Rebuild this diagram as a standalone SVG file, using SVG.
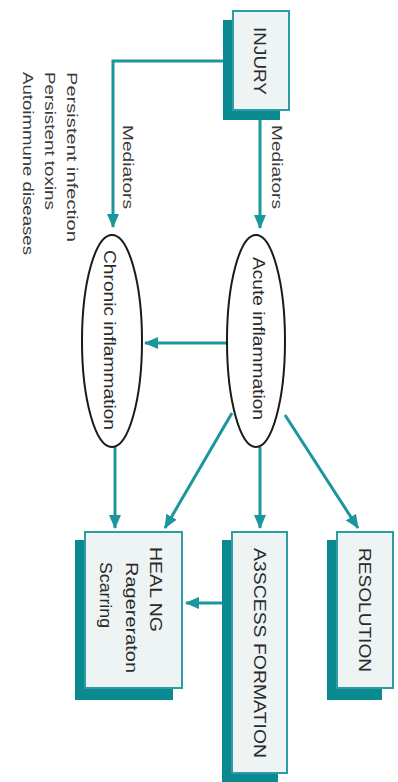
<svg xmlns="http://www.w3.org/2000/svg" width="398" height="782" viewBox="0 0 398 782">
<style>
.shadow{fill:#0a8a90;}
.box{fill:#eef4f4;stroke:#2a9ea4;stroke-width:2;}
.ell{fill:#ffffff;stroke:#1a1a1a;stroke-width:2;}
.t{font-family:"Liberation Sans",Arial,sans-serif;font-size:16px;fill:#2a2a2a;}
.s{font-family:"Liberation Sans",Arial,sans-serif;font-size:14px;fill:#3a3a3a;}
.c{fill:none;stroke:#1a969c;stroke-width:3;}
</style>
<defs>
<marker id="ah" markerUnits="userSpaceOnUse" markerWidth="14" markerHeight="12" refX="13" refY="6" orient="auto">
<path d="M0,0 L14,6 L0,12 Z" fill="#1a969c"/>
</marker>
</defs>
<rect width="398" height="782" fill="#ffffff"/>
<g id="connectors">
<polyline class="c" points="223,61 113,61 113,227" marker-end="url(#ah)"/>
<line class="c" x1="260" y1="120" x2="260" y2="228" marker-end="url(#ah)"/>
<line class="c" x1="228" y1="343" x2="145" y2="343" marker-end="url(#ah)"/>
<line class="c" x1="115" y1="447" x2="115" y2="528" marker-end="url(#ah)"/>
<line class="c" x1="232" y1="413" x2="165" y2="528" marker-end="url(#ah)"/>
<line class="c" x1="260" y1="447" x2="260" y2="528" marker-end="url(#ah)"/>
<line class="c" x1="285" y1="415" x2="358" y2="528" marker-end="url(#ah)"/>
<line class="c" x1="223" y1="603" x2="186" y2="603" marker-end="url(#ah)"/>
<text class="s" transform="translate(128,125) rotate(90)" dy="0.35em" textLength="84" lengthAdjust="spacingAndGlyphs">Mediators</text>
<text class="s" transform="translate(277,125) rotate(90)" dy="0.35em" textLength="84" lengthAdjust="spacingAndGlyphs">Mediators</text>
</g>
<g id="causes">
<text class="s" transform="translate(72,72) rotate(90)" dy="0.35em" textLength="170" lengthAdjust="spacingAndGlyphs">Persistent infection</text>
<text class="s" transform="translate(50,72) rotate(90)" dy="0.35em" textLength="138" lengthAdjust="spacingAndGlyphs">Persistent toxins</text>
<text class="s" transform="translate(28,72) rotate(90)" dy="0.35em" textLength="183" lengthAdjust="spacingAndGlyphs">Autoimmune diseases</text>
</g>
<g id="injury">
<rect class="shadow" x="223" y="20" width="57" height="100"/>
<rect class="box" x="233" y="11" width="56" height="99"/>
<text class="t" transform="translate(260,27) rotate(90)" dy="0.35em" textLength="68" lengthAdjust="spacingAndGlyphs">INJURY</text>
</g>
<g id="acute">
<ellipse class="ell" cx="256" cy="341" rx="29" ry="106"/>
<text class="t" transform="translate(259,257) rotate(90)" dy="0.35em" textLength="163" lengthAdjust="spacingAndGlyphs">Acute inflammation</text>
</g>
<g id="chronic">
<ellipse class="ell" cx="112" cy="341" rx="30" ry="106"/>
<text class="t" transform="translate(110,250) rotate(90)" dy="0.35em" textLength="180" lengthAdjust="spacingAndGlyphs">Chronic inflammation</text>
</g>
<g id="healing">
<rect class="shadow" x="75" y="540" width="98" height="160"/>
<rect class="box" x="85" y="532" width="97" height="156"/>
<text class="t" transform="translate(156,547) rotate(90)" dy="0.35em" textLength="85" lengthAdjust="spacingAndGlyphs">HEAL NG</text>
<text class="t" transform="translate(132,562) rotate(90)" dy="0.35em" textLength="111" lengthAdjust="spacingAndGlyphs">Ragereraton</text>
<text class="t" transform="translate(106,562) rotate(90)" dy="0.35em" textLength="66" lengthAdjust="spacingAndGlyphs">Scarring</text>
</g>
<g id="abscess">
<rect class="shadow" x="222" y="540" width="56" height="242"/>
<rect class="box" x="232" y="532" width="55" height="241"/>
<text class="t" transform="translate(260,548) rotate(90)" dy="0.35em" textLength="210" lengthAdjust="spacingAndGlyphs">A3SCESS FORMATION</text>
</g>
<g id="resolution">
<rect class="shadow" x="327" y="540" width="55" height="160"/>
<rect class="box" x="337" y="532" width="56" height="156"/>
<text class="t" transform="translate(365,548) rotate(90)" dy="0.35em" textLength="124" lengthAdjust="spacingAndGlyphs">RESOLUTION</text>
</g>
</svg>
